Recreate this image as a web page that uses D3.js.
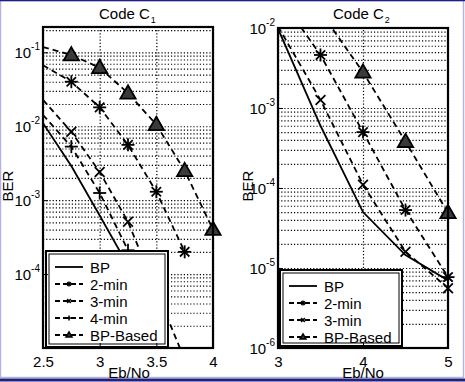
<!DOCTYPE html>
<html>
<head>
<meta charset="utf-8">
<script src="https://cdn.jsdelivr.net/npm/d3@7"></script>
<style>
  body { margin: 0; background: #fff; }
  svg { display: block; font-family: "Liberation Sans", Arial, sans-serif; }
  text { font-family: "Liberation Sans", Arial, sans-serif; }
</style>
</head>
<body>
<svg id="chart" width="465" height="382"></svg>
<script>
// ---- Code C1 (left panel) ----
const c1EbNo = [2.5, 2.75, 3, 3.25, 3.5, 3.75, 4];
const c1Bp = [0.011, 0.0029, 6.2e-4, 1.3e-4, 1.6e-5, 1.0e-6];
const c1Min2 = [0.067, 0.040, 0.018, 0.0056, 0.0013, 2.0e-4];
const c1Min3 = [0.0227, 0.0084, 0.0024, 5.1e-4, 5.9e-5, 7.0e-6];
const c1Min4 = [0.0142, 0.0053, 0.00125, 2.1e-4, 2.3e-5, 1.5e-6];
const c1BpBased = [0.118, 0.092, 0.062, 0.028, 0.0105, 0.0025, 4.0e-4];
const c1XTicks = [2.5, 3, 3.5, 4];
const c1YExp = [-1, -2, -3, -4];

// ---- Code C2 (right panel) ----
const c2EbNo = [3, 3.5, 4, 4.5, 5];
const c2Bp = [0.0098, 6.0e-4, 5.0e-5, 1.45e-5, 7.0e-6];
const c2Min2 = [0.026, 4.6e-3, 5.0e-4, 5.3e-5, 7.7e-6];
const c2Min3 = [0.0105, 1.26e-3, 1.1e-4, 1.6e-5, 5.6e-6];
const c2BpBased = [0.05, 0.016, 2.8e-3, 3.8e-4, 4.9e-5];
const c2XTicks = [3, 4, 5];
const c2YExp = [-2, -3, -4, -5, -6];

const styles = {
  'BP':       { dash: null,  marker: 'none' },
  '2-min':    { dash: '6,4', marker: 'star' },
  '3-min':    { dash: '6,4', marker: 'x' },
  '4-min':    { dash: '6,4', marker: 'plus' },
  'BP-Based': { dash: '6,4', marker: 'tri' }
};

const FONT = '"Liberation Sans", Arial, sans-serif';
const svg = d3.select('#chart');

// window frame
svg.append('rect').attr('x', 0.5).attr('y', 0.5).attr('width', 463).attr('height', 377)
  .attr('fill', 'none').attr('stroke', '#b4b4e0').attr('stroke-width', 1.5);
svg.append('line').attr('x1', 0).attr('x2', 465).attr('y1', 0.5).attr('y2', 0.5)
  .attr('stroke', '#202080').attr('stroke-width', 1.5);
svg.append('line').attr('x1', 0).attr('x2', 465).attr('y1', 380).attr('y2', 380)
  .attr('stroke', '#202080').attr('stroke-width', 3);

function drawMarker(g, type, cx, cy, r, sw) {
  const add = (x1, y1, x2, y2) => g.append('line')
    .attr('x1', cx + x1).attr('y1', cy + y1).attr('x2', cx + x2).attr('y2', cy + y2)
    .attr('stroke', '#000').attr('stroke-width', sw);
  if (type === 'plus' || type === 'star') { add(-r, 0, r, 0); add(0, -r, 0, r); }
  if (type === 'x' || type === 'star') {
    const d = type === 'star' ? r * 0.72 : r * 0.75;
    add(-d, -d, d, d); add(-d, d, d, -d);
  }
  if (type === 'tri') {
    g.append('path')
      .attr('d', d3.symbol(d3.symbolTriangle, r * r * 2.4)())
      .attr('transform', `translate(${cx},${cy + r * 0.15})`)
      .attr('fill', '#3a3a3a').attr('stroke', '#000').attr('stroke-width', sw);
  }
}

function drawPanel(p) {
  const x = d3.scaleLinear().domain(p.xDomain).range([p.left, p.right]);
  const y = d3.scaleLog().domain(p.yDomain).range([p.bottom, p.top]);
  const w = p.right - p.left, h = p.bottom - p.top;
  const g = svg.append('g');

  const clipId = 'clip' + p.id;
  g.append('clipPath').attr('id', clipId).append('rect')
    .attr('x', p.left).attr('y', p.top).attr('width', w).attr('height', h);

  // dotted grid: vertical at x ticks, horizontal at every log tick
  g.append('g').attr('transform', `translate(0,${p.bottom})`)
    .call(d3.axisBottom(x).tickValues(p.xTicks).tickSize(-h).tickFormat(''))
    .call(a => a.select('.domain').remove())
    .selectAll('line').attr('stroke', '#000').attr('stroke-width', 1.2).attr('stroke-dasharray', '1.2,2');
  g.append('g').attr('transform', `translate(${p.left},0)`)
    .call(d3.axisLeft(y).tickValues(y.ticks()).tickSize(-w).tickFormat(''))
    .call(a => a.select('.domain').remove())
    .selectAll('line').attr('stroke', '#000').attr('stroke-width', 1.2).attr('stroke-dasharray', '1.2,2');

  // curves (clipped), markers drawn for points inside the axes
  const line = d3.line().x(d => x(d[0])).y(d => y(d[1]));
  const plot = g.append('g').attr('clip-path', `url(#${clipId})`);
  const marks = g.append('g');
  p.series.forEach(s => {
    const st = styles[s.name];
    const pts = s.y.map((v, i) => [s.x[i], v]);
    plot.append('path').datum(pts).attr('d', line)
      .attr('fill', 'none').attr('stroke', '#000').attr('stroke-width', 1.8)
      .attr('stroke-dasharray', st.dash);
    pts.filter(d => d[0] > p.xDomain[0] && d[1] < p.yDomain[1] && d[1] > p.yDomain[0])
      .forEach(d => drawMarker(marks, st.marker, x(d[0]), y(d[1]), 6.5, 1.8));
  });

  // legend
  const lg = g.append('g');
  lg.append('rect').attr('x', p.legend.x).attr('y', p.legend.y)
    .attr('width', p.legend.w).attr('height', p.legend.h)
    .attr('fill', '#fff').attr('stroke', '#000').attr('stroke-width', 2);
  lg.append('rect').attr('x', p.legend.x + 3).attr('y', p.legend.y + 3)
    .attr('width', p.legend.w - 6).attr('height', p.legend.h - 6)
    .attr('fill', 'none').attr('stroke', '#000').attr('stroke-width', 1);
  p.series.forEach((s, i) => {
    const st = styles[s.name];
    const ly = p.legend.y + 16 + i * p.legend.step;
    const lx = p.legend.x + 9;
    lg.append('line').attr('x1', lx).attr('x2', lx + 28).attr('y1', ly).attr('y2', ly)
      .attr('stroke', '#000').attr('stroke-width', 1.8).attr('stroke-dasharray', st.dash ? '5,3' : null);
    drawMarker(lg, st.marker, lx + 14, ly, 2.5, 1.5);
    lg.append('text').attr('x', lx + 35).attr('y', ly + 5.5)
      .attr('font-size', 15).attr('font-family', FONT).text(s.name);
  });

  // box and inside ticks
  g.append('rect').attr('x', p.left).attr('y', p.top).attr('width', w).attr('height', h)
    .attr('fill', 'none').attr('stroke', '#000').attr('stroke-width', 2.2);
  g.append('g').attr('transform', `translate(0,${p.bottom})`)
    .call(d3.axisBottom(x).tickValues(p.xTicks).tickSize(-5).tickPadding(8).tickFormat(d3.format('~g')))
    .call(a => a.select('.domain').remove())
    .call(a => a.selectAll('text').attr('font-size', 15).attr('fill', '#000').attr('font-family', FONT));
  const yMajor = p.yExp.map(e => Math.pow(10, e));
  const ya = g.append('g').attr('transform', `translate(${p.left},0)`)
    .call(d3.axisLeft(y).tickValues(yMajor).tickSize(-5).tickFormat(''))
    .call(a => a.select('.domain').remove());
  ya.selectAll('.tick').append('text')
    .attr('x', -3).attr('y', 5).attr('text-anchor', 'end').attr('fill', '#000')
    .attr('font-size', 15).attr('font-family', FONT)
    .each(function(d) {
      const t = d3.select(this);
      t.append('tspan').text('10');
      t.append('tspan').attr('dy', -8).attr('font-size', 10).text(String(Math.round(Math.log10(d))));
    });

  // titles
  const title = svg.append('text').attr('x', p.titleX).attr('y', 19)
    .attr('font-size', 15).attr('font-family', FONT);
  title.append('tspan').text('Code C');
  title.append('tspan').attr('dx', 1).attr('dy', 4).attr('font-size', 9).text(p.sub);
  svg.append('text').attr('x', p.xLabelX).attr('y', 378).attr('font-family', FONT)
    .attr('text-anchor', 'middle').attr('font-size', 15).text('Eb/No');
  svg.append('text').attr('transform', `translate(${p.berX},186) rotate(-90)`).attr('font-family', FONT)
    .attr('text-anchor', 'middle').attr('font-size', 15).text('BER');
}

drawPanel({
  id: 1, left: 43, right: 213, top: 27, bottom: 348,
  xDomain: [2.5, 4], yDomain: [1e-5, 0.22],
  xTicks: c1XTicks, yExp: c1YExp, sub: '1', titleX: 99, berX: 13, xLabelX: 129,
  legend: { x: 46, y: 251, w: 122, h: 96, step: 17 },
  series: [
    { name: 'BP', x: c1EbNo, y: c1Bp },
    { name: '2-min', x: c1EbNo, y: c1Min2 },
    { name: '3-min', x: c1EbNo, y: c1Min3 },
    { name: '4-min', x: c1EbNo, y: c1Min4 },
    { name: 'BP-Based', x: c1EbNo, y: c1BpBased }
  ]
});

drawPanel({
  id: 2, left: 278, right: 448, top: 28, bottom: 348,
  xDomain: [3, 5], yDomain: [1e-6, 1e-2],
  xTicks: c2XTicks, yExp: c2YExp, sub: '2', titleX: 333, berX: 253, xLabelX: 363,
  legend: { x: 280, y: 270, w: 122, h: 76, step: 17 },
  series: [
    { name: 'BP', x: c2EbNo, y: c2Bp },
    { name: '2-min', x: c2EbNo, y: c2Min2 },
    { name: '3-min', x: c2EbNo, y: c2Min3 },
    { name: 'BP-Based', x: c2EbNo, y: c2BpBased }
  ]
});
</script>
</body>
</html>
